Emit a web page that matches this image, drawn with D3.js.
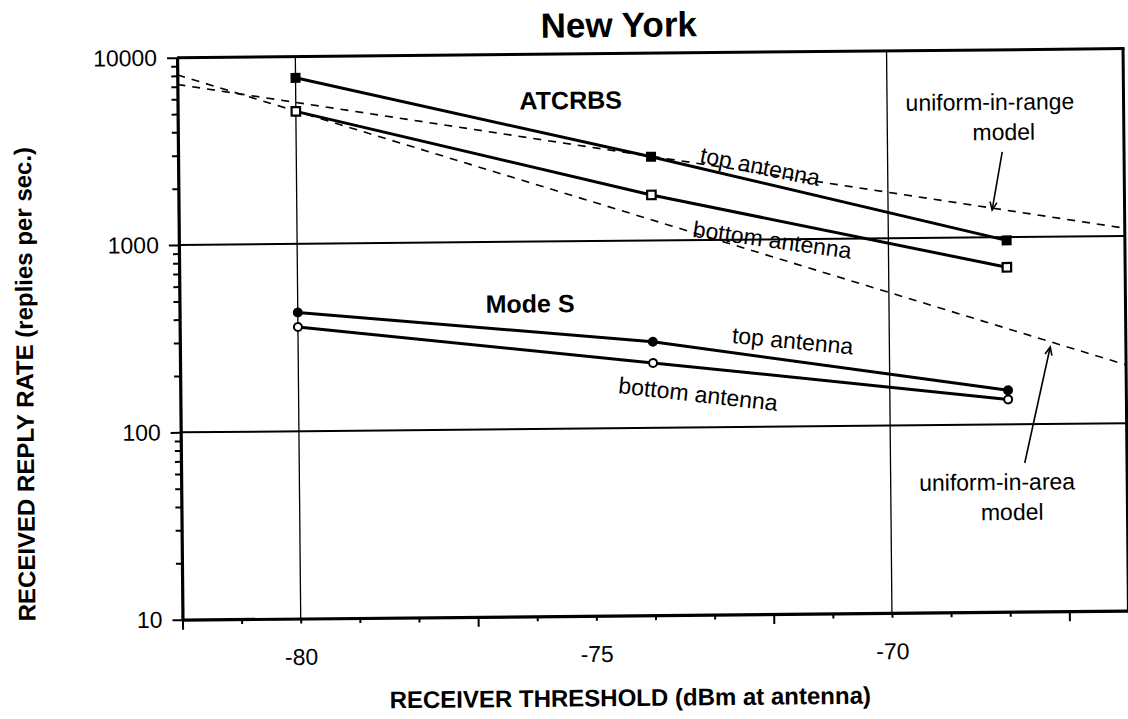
<!DOCTYPE html>
<html><head><meta charset="utf-8">
<script src="https://cdn.jsdelivr.net/npm/d3@7"></script>
<style>
body{margin:0;background:#fff}
svg{display:block}
text{font-family:"Liberation Sans",Arial,sans-serif;fill:#000}
</style>
</head><body>
<svg id="chart" width="1128" height="719"></svg>
<script>
// ---------- data ----------
const thresholds = [-80, -74, -68];               // dBm at antenna
const atcrbsTop = [7700, 2800, 960];              // replies / sec
const atcrbsBottom = [5100, 1750, 690];
const modeSTop = [430, 288, 152];
const modeSBottom = [360, 222, 136];
const modelX = [-82, -66];
const uniformInRange = [7200, 1100];
const uniformInArea = [8100, 205];
const yTickLabels = [10, 100, 1000, 10000];
const xTickLabels = [-80, -75, -70];
const xLongTicks = [-82, -77, -72, -67];
const hGridValues = [100, 1000];
const vGridValues = [-80, -70];

// annotation anchors (in data units)
const notes = [
  {t:"ATCRBS", x:-75.35, y:5080, bold:true, anchor:"middle", angle:0, size:25},
  {t:"top antenna", x:-73.19, y:2590, anchor:"start", angle:11.7, size:23},
  {t:"bottom antenna", x:-73.32, y:1042, anchor:"start", angle:8.5, size:23},
  {t:"Mode S", x:-76.07, y:419, bold:true, anchor:"middle", angle:0, size:25},
  {t:"top antenna", x:-72.67, y:281, anchor:"start", angle:6, size:23},
  {t:"bottom antenna", x:-74.60, y:154, anchor:"start", angle:7, size:23},
  {t:"uniform-in-range", x:-68.26, y:4780, anchor:"middle", angle:0, size:23},
  {t:"model", x:-68.03, y:3300, anchor:"middle", angle:0, size:23},
  {t:"uniform-in-area", x:-68.20, y:44.7, anchor:"middle", angle:0, size:23},
  {t:"model", x:-67.95, y:30.9, anchor:"middle", angle:0, size:23}
];
const arrows = [
  {x1:-68.06, y1:2848, x2:-68.24, y2:1398},
  {x1:-67.73, y1:62.1, x2:-67.28, y2:257.6}
];

// ---------- layout ----------
const plot = {left:180, right:1126, top:54, bottom:616};
const svg = d3.select("#chart");
const defs = svg.append("defs");
defs.append("marker").attr("id","ah").attr("viewBox","-10 -5 12 10")
  .attr("refX",0).attr("refY",0).attr("markerWidth",12).attr("markerHeight",10)
  .attr("markerUnits","userSpaceOnUse").attr("orient","auto")
  .append("path").attr("d","M-8,-3.5L0,0L-8,3.5").attr("fill","none")
  .attr("stroke","#000").attr("stroke-width",1.6);

const g = svg.append("g").attr("transform","rotate(-0.55 564 360)");

const x = d3.scaleLinear().domain([-82,-66]).range([plot.left, plot.right]);
const y = d3.scaleLog().domain([10,10000]).range([plot.bottom, plot.top]);

// gridlines
g.append("g").selectAll("line").data(hGridValues).join("line")
  .attr("x1",plot.left).attr("x2",plot.right)
  .attr("y1",d=>y(d)).attr("y2",d=>y(d))
  .attr("stroke","#000").attr("stroke-width",2);
g.append("g").selectAll("line").data(vGridValues).join("line")
  .attr("x1",d=>x(d)).attr("x2",d=>x(d))
  .attr("y1",plot.top).attr("y2",plot.bottom)
  .attr("stroke","#000").attr("stroke-width",1.3);

// borders (top/right)
g.append("line").attr("x1",plot.left).attr("x2",plot.right+1.5)
  .attr("y1",y(10000)).attr("y2",y(10000)).attr("stroke","#000").attr("stroke-width",3);
g.append("line").attr("x1",plot.right).attr("x2",plot.right)
  .attr("y1",plot.top).attr("y2",plot.bottom).attr("stroke","#000").attr("stroke-width",3);

// model lines
const line = d3.line().x(d=>x(d[0])).y(d=>y(d[1]));
[uniformInRange, uniformInArea].forEach(vals=>{
  g.append("path").datum(d3.zip(modelX, vals)).attr("d",line)
    .attr("fill","none").attr("stroke","#000").attr("stroke-width",1.6)
    .attr("stroke-dasharray","8,7");
});

// series lines
const series = [
  {v:atcrbsTop, m:"sq", fill:"#000"},
  {v:atcrbsBottom, m:"sq", fill:"#fff"},
  {v:modeSTop, m:"ci", fill:"#000"},
  {v:modeSBottom, m:"ci", fill:"#fff"}
];
series.forEach(s=>{
  const pts = d3.zip(thresholds, s.v);
  g.append("path").datum(pts).attr("d",line)
    .attr("fill","none").attr("stroke","#000").attr("stroke-width",3);
  if (s.m==="sq") {
    const sz = s.fill==="#000" ? 10 : 8.5;
    g.append("g").selectAll("rect").data(pts).join("rect")
      .attr("x",d=>x(d[0])-sz/2).attr("y",d=>y(d[1])-sz/2)
      .attr("width",sz).attr("height",sz)
      .attr("fill",s.fill).attr("stroke","#000").attr("stroke-width",s.fill==="#000"?0:2.2);
  } else {
    g.append("g").selectAll("circle").data(pts).join("circle")
      .attr("cx",d=>x(d[0])).attr("cy",d=>y(d[1]))
      .attr("r",s.fill==="#000"?5:4)
      .attr("fill",s.fill).attr("stroke","#000").attr("stroke-width",s.fill==="#000"?0:2);
  }
});

// axes
const yTickAll = [];
[10,100,1000].forEach(dec=>{ for(let k=1;k<10;k++) yTickAll.push(k*dec); });
yTickAll.push(10000);
const yAxis = d3.axisLeft(y).tickValues(yTickAll)
  .tickFormat(d=> yTickLabels.includes(d) ? String(d) : "")
  .tickSize(6).tickSizeOuter(0).tickPadding(14);
const ya = g.append("g").attr("transform",`translate(${plot.left},0)`).call(yAxis);
ya.select(".domain").attr("stroke-width",3.2);
ya.selectAll(".tick line").attr("stroke-width",2)
  .attr("x2",d=> yTickLabels.includes(d) ? -10 : -6);
ya.selectAll(".tick text").attr("font-size",23).attr("font-family",null);

const xAxis = d3.axisBottom(x).tickValues(d3.range(-82,-65,1))
  .tickFormat(d=> xTickLabels.includes(d) ? String(d) : "")
  .tickSize(6).tickSizeOuter(0).tickPadding(24);
const xa = g.append("g").attr("transform",`translate(0,${plot.bottom})`).call(xAxis);
xa.select(".domain").attr("stroke-width",3.2);
xa.selectAll(".tick line").attr("stroke-width",2)
  .attr("y2",d=> xLongTicks.includes(d) ? 10 : 5);
xa.selectAll(".tick text").attr("font-size",23).attr("font-family",null);

// annotations
notes.forEach(n=>{
  const px = x(n.x), py = y(n.y);
  g.append("text").attr("x",px).attr("y",py)
    .attr("transform", n.angle ? `rotate(${n.angle} ${px} ${py})` : null)
    .attr("text-anchor",n.anchor).attr("font-size",n.size)
    .attr("font-weight",n.bold?"bold":"normal").text(n.t);
});
arrows.forEach(a=>{
  g.append("line").attr("x1",x(a.x1)).attr("y1",y(a.y1))
    .attr("x2",x(a.x2)).attr("y2",y(a.y2))
    .attr("stroke","#000").attr("stroke-width",1.6).attr("marker-end","url(#ah)");
});

// titles
g.append("text").attr("x",622).attr("y",37.6).attr("text-anchor","middle")
  .attr("font-size",35).attr("font-weight","bold").text("New York");
g.append("text").attr("transform","translate(33,379) rotate(-90)")
  .attr("text-anchor","middle").attr("font-size",24).attr("font-weight","bold")
  .text("RECEIVED REPLY RATE (replies per sec.)");
g.append("text").attr("x",627).attr("y",706.6).attr("text-anchor","middle")
  .attr("font-size",24).attr("font-weight","bold")
  .text("RECEIVER THRESHOLD (dBm at antenna)");
</script>
</body></html>
